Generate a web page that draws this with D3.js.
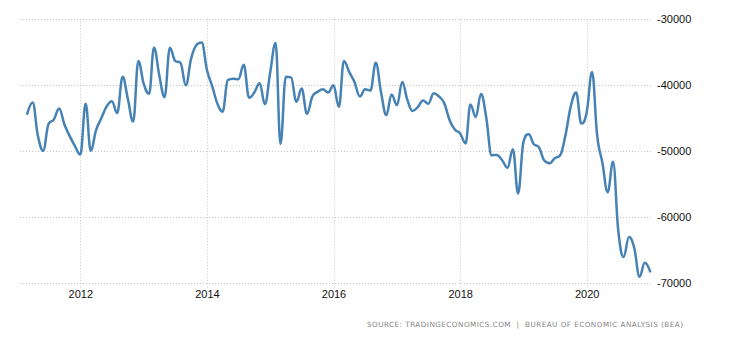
<!DOCTYPE html>
<html>
<head>
<meta charset="utf-8">
<script src="https://cdn.jsdelivr.net/npm/d3@7"></script>
<style>
  html, body { margin: 0; padding: 0; background: #fff; }
  svg { display: block; }
</style>
</head>
<body>
<svg id="chart" width="730" height="340"></svg>
<script>
// US balance of trade, monthly, USD million (Mar 2011 – Jan 2021)
const startMonth = [2011, 2]; // year, zero-based month of the first value
const balance = [
  // 2011 (Mar–Dec)
  -44300, -42600, -47600, -49900, -45900, -45200, -43500, -45900, -47700, -49200,
  // 2012
  -50500, -42800, -49900, -46800, -45000, -43200, -42400, -44200, -38700, -42000, -45500, -36300,
  // 2013
  -39800, -41300, -34300, -38500, -41800, -34300, -36300, -36600, -40000, -36000, -33900, -33500,
  // 2014
  -37700, -40200, -42700, -44000, -39200, -39000, -39100, -36900, -41900, -41100, -39700, -42850,
  // 2015
  -38000, -33600, -48900, -38700, -38800, -42500, -40500, -44300, -41700, -41000, -40600, -41100,
  // 2016
  -40000, -43300, -36300, -38000, -39500, -41700, -40600, -40800, -36600, -41000, -44500, -41400,
  // 2017
  -43000, -39500, -42100, -43900, -43300, -42300, -42800, -41200, -41700, -42700, -45300, -46700,
  // 2018
  -47300, -48800, -42900, -44800, -41300, -45000, -50600, -50550, -51400, -52500, -49700, -56400,
  // 2019
  -48600, -47400, -48900, -49400, -51400, -51800, -51050, -50600, -47500, -43200, -41100, -45800,
  // 2020
  -44100, -38000, -47500, -51800, -56200, -51600, -62000, -66000, -63000, -64600, -69000, -66900,
  // 2021
  -68200
];
const yTicks = [-30000, -40000, -50000, -60000, -70000];
const xTickYears = [2012, 2014, 2016, 2018, 2020];
const sourceText = "SOURCE: TRADINGECONOMICS.COM  |  BUREAU OF ECONOMIC ANALYSIS (BEA)";

const series = balance.map((v, i) => ({
  date: new Date(startMonth[0], startMonth[1] + i, 1),
  value: v
}));

// Smoothed spline: control points at 0.4 of each neighbouring gap,
// tangent through the neighbours, clamped so no false extremes appear.
function SmoothSpline(context) { this._context = context; }
SmoothSpline.prototype = {
  areaStart() {}, areaEnd() {},
  lineStart() { this._pts = []; },
  point(px, py) { this._pts.push([+px, +py]); },
  lineEnd() {
    const p = this._pts, n = p.length, ctx = this._context;
    if (!n) return;
    const s = 1.5, den = 2.5;
    const L = p.map(d => d.slice()), R = p.map(d => d.slice());
    for (let i = 1; i < n - 1; i++) {
      const [lx, ly] = p[i - 1], [px, py] = p[i], [nx, ny] = p[i + 1];
      const lcx = (s * px + lx) / den;
      let lcy = (s * py + ly) / den;
      const rcx = (s * px + nx) / den;
      let rcy = (s * py + ny) / den;
      let corr = 0;
      if (rcx !== lcx) corr = ((rcy - lcy) * (rcx - px)) / (rcx - lcx) + py - rcy;
      lcy += corr; rcy += corr;
      if (lcy > ly && lcy > py) { lcy = Math.max(ly, py); rcy = 2 * py - lcy; }
      else if (lcy < ly && lcy < py) { lcy = Math.min(ly, py); rcy = 2 * py - lcy; }
      if (rcy > ny && rcy > py) { rcy = Math.max(ny, py); lcy = 2 * py - rcy; }
      else if (rcy < ny && rcy < py) { rcy = Math.min(ny, py); lcy = 2 * py - rcy; }
      L[i] = [lcx, lcy]; R[i] = [rcx, rcy];
    }
    ctx.moveTo(p[0][0], p[0][1]);
    for (let i = 1; i < n; i++) {
      ctx.bezierCurveTo(R[i - 1][0], R[i - 1][1], L[i][0], L[i][1], p[i][0], p[i][1]);
    }
  }
};
const curveSmoothSpline = ctx => new SmoothSpline(ctx);

const svg = d3.select("#chart");
const plotLeft = 20, plotRight = 653;

const x = d3.scaleTime()
  .domain([new Date(2012, 0, 1), new Date(2020, 0, 1)])
  .range([80.3, 586.7]);

const y = d3.scaleLinear()
  .domain([-70000, -30000])
  .range([283.3, 19.3]);

// horizontal grid
svg.append("g")
  .selectAll("line")
  .data(yTicks)
  .join("line")
  .attr("x1", plotLeft)
  .attr("x2", plotRight)
  .attr("y1", d => Math.round(y(d)) + 0.5)
  .attr("y2", d => Math.round(y(d)) + 0.5)
  .attr("stroke", "#c6c6c6")
  .attr("stroke-width", 1)
  .attr("stroke-dasharray", "1,2");

// vertical grid at labelled years
const yearDates = xTickYears.map(yr => new Date(yr, 0, 1));
svg.append("g")
  .selectAll("line")
  .data(yearDates)
  .join("line")
  .attr("x1", d => Math.round(x(d)) + 0.5)
  .attr("x2", d => Math.round(x(d)) + 0.5)
  .attr("y1", y(-30000))
  .attr("y2", y(-70000) + 5)
  .attr("stroke", "#c6c6c6")
  .attr("stroke-width", 1)
  .attr("stroke-dasharray", "1,2");

// x axis labels
const xAxis = d3.axisBottom(x)
  .tickValues(yearDates)
  .tickFormat(d3.timeFormat("%Y"))
  .tickSize(0)
  .tickPadding(0);
const gx = svg.append("g")
  .attr("transform", "translate(0,290)")
  .call(xAxis);
gx.select(".domain").remove();
gx.selectAll("text")
  .attr("dy", "0.71em")
  .attr("fill", "#111")
  .style("font-family", "'Liberation Sans', Arial, sans-serif")
  .style("font-size", "11px");

// y axis labels on the right
const yAxis = d3.axisRight(y)
  .tickValues(yTicks)
  .tickFormat(d => String(d))
  .tickSize(0)
  .tickPadding(0);
const gy = svg.append("g")
  .attr("transform", "translate(657,0)")
  .call(yAxis);
gy.select(".domain").remove();
gy.selectAll("text")
  .attr("fill", "#111")
  .style("font-family", "'Liberation Sans', Arial, sans-serif")
  .style("font-size", "11px");

// the series line
const line = d3.line()
  .x(d => x(d.date))
  .y(d => y(d.value))
  .curve(curveSmoothSpline);

svg.append("path")
  .datum(series)
  .attr("fill", "none")
  .attr("stroke", "#4682b4")
  .attr("stroke-width", 2.5)
  .attr("stroke-linejoin", "round")
  .attr("stroke-linecap", "round")
  .attr("d", line);

// source note
svg.append("text")
  .attr("x", 683)
  .attr("y", 327)
  .attr("text-anchor", "end")
  .attr("fill", "#858585")
  .attr("textLength", 316)
  .attr("lengthAdjust", "spacing")
  .style("font-family", "'DejaVu Sans', Verdana, sans-serif")
  .style("font-size", "7.2px")
  .style("white-space", "pre")
  .text(sourceText);
</script>
</body>
</html>
